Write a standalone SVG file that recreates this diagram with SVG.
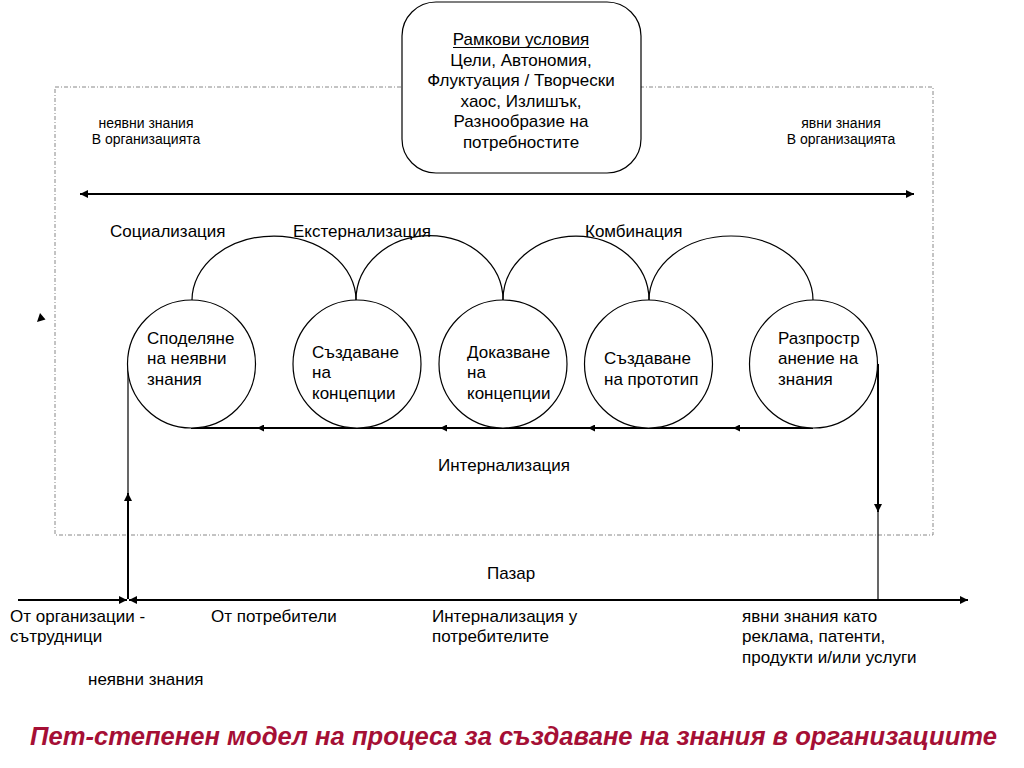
<svg xmlns="http://www.w3.org/2000/svg" width="1024" height="768" viewBox="0 0 1024 768">
<style>
text{font-family:"Liberation Sans",Arial,sans-serif;fill:#000}
.t15{font-size:17px}
.t13{font-size:14px}
.mid{text-anchor:middle}
.ln{fill:none;stroke:#000;stroke-width:1.2}
.thk{fill:none;stroke:#000;stroke-width:2}
.circ{fill:#fff;stroke:#000;stroke-width:1.2}
.title{font-size:25px;font-weight:bold;font-style:italic;fill:#a50f35}
</style>
<defs>
<marker id="ah" viewBox="0 0 10 10" refX="10" refY="5" markerWidth="9" markerHeight="8" markerUnits="userSpaceOnUse" orient="auto-start-reverse"><path d="M0,0 L10,5 L0,10 z" fill="#000"/></marker>
<marker id="ahs" viewBox="0 0 10 10" refX="10" refY="5" markerWidth="7" markerHeight="7" markerUnits="userSpaceOnUse" orient="auto-start-reverse"><path d="M0,0 L10,5 L0,10 z" fill="#000"/></marker>
</defs>
<rect width="1024" height="768" fill="#fff"/>
<rect id="organization" x="55" y="87" width="878" height="448" fill="none" stroke="#888" stroke-width="1" stroke-dasharray="4,2,1,2"/>
<g id="frame-conditions">
<rect x="402" y="2" width="239" height="171" rx="34" ry="34" fill="#fff" stroke="#000" stroke-width="1.2"/>
<text class="t15 mid" x="521" y="45">Рамкови условия</text>
<line x1="453" y1="47.5" x2="589" y2="47.5" stroke="#000" stroke-width="1"/>
<text class="t15 mid" x="521" y="66">Цели, Автономия,</text>
<text class="t15 mid" x="521" y="86">Флуктуация / Творчески</text>
<text class="t15 mid" x="521" y="107">хаос, Излишък,</text>
<text class="t15 mid" x="521" y="127">Разнообразие на</text>
<text class="t15 mid" x="521" y="148">потребностите</text>
</g>
<g id="labels-top">
<text class="t13 mid" x="146" y="128">неявни знания</text>
<text class="t13 mid" x="146" y="144">В организацията</text>
<text class="t13 mid" x="841" y="128">явни знания</text>
<text class="t13 mid" x="841" y="144">В организацията</text>
<text class="t15" x="110" y="237">Социализация</text>
<text class="t15" x="293" y="237">Екстернализация</text>
<text class="t15" x="585" y="237">Комбинация</text>
</g>
<g id="connectors">
<line class="thk" x1="80" y1="194" x2="914" y2="194" marker-start="url(#ah)" marker-end="url(#ah)"/>
<path class="ln" d="M192,300 A82,64 0 0 1 356,300"/>
<path class="ln" d="M356,300 A73,64 0 0 1 503,300"/>
<path class="ln" d="M503,300 A73,64 0 0 1 649,300"/>
<path class="ln" d="M649,300 A82,64 0 0 1 813,300"/>
<line class="thk" x1="813" y1="428" x2="733" y2="428" marker-end="url(#ahs)"/>
<line class="thk" x1="735" y1="428" x2="588" y2="428" marker-end="url(#ahs)"/>
<line class="thk" x1="590" y1="428" x2="440" y2="428" marker-end="url(#ahs)"/>
<line class="thk" x1="442" y1="428" x2="257" y2="428" marker-end="url(#ahs)"/>
<line class="thk" x1="259" y1="428" x2="191" y2="428"/>
<line class="ln" x1="128" y1="364" x2="128" y2="495"/>
<line class="thk" x1="128" y1="599" x2="128" y2="493" marker-end="url(#ah)"/>
<line class="thk" x1="878" y1="364" x2="878" y2="512" marker-end="url(#ah)"/>
<line class="ln" x1="878" y1="510" x2="878" y2="600"/>
<line class="thk" x1="18" y1="600" x2="127" y2="600" marker-end="url(#ah)"/>
<line class="thk" x1="129" y1="600" x2="968" y2="600" marker-start="url(#ah)" marker-end="url(#ah)"/>
<polygon points="37,322 40,313 45.5,319.5" fill="#000"/>
</g>
<g id="node-1">
<circle class="circ" cx="191.5" cy="364" r="64"/>
<text class="t15" x="147" y="344">Споделяне</text>
<text class="t15" x="147" y="364">на неявни</text>
<text class="t15" x="147" y="385">знания</text>
</g>
<g id="node-2">
<circle class="circ" cx="357" cy="364" r="64"/>
<text class="t15" x="312" y="358">Създаване</text>
<text class="t15" x="312" y="378">на</text>
<text class="t15" x="312" y="399">концепции</text>
</g>
<g id="node-3">
<circle class="circ" cx="503" cy="364" r="64"/>
<text class="t15" x="467" y="358">Доказване</text>
<text class="t15" x="467" y="378">на</text>
<text class="t15" x="467" y="399">концепции</text>
</g>
<g id="node-4">
<circle class="circ" cx="648.5" cy="364" r="64"/>
<text class="t15" x="604" y="364">Създаване</text>
<text class="t15" x="604" y="385">на прототип</text>
</g>
<g id="node-5">
<circle class="circ" cx="813.5" cy="364" r="64"/>
<text class="t15" x="778" y="344">Разпростр</text>
<text class="t15" x="778" y="364">анение на</text>
<text class="t15" x="778" y="385">знания</text>
</g>
<g id="labels-bottom">
<text class="t15" x="438" y="471">Интернализация</text>
<text class="t15" x="487" y="579">Пазар</text>
<text class="t15" x="10" y="622">От организации -</text>
<text class="t15" x="10" y="642">сътрудници</text>
<text class="t15" x="211" y="622">От потребители</text>
<text class="t15" x="432" y="622">Интернализация у</text>
<text class="t15" x="432" y="642">потребителите</text>
<text class="t15" x="742" y="622">явни знания като</text>
<text class="t15" x="742" y="642">реклама, патенти,</text>
<text class="t15" x="742" y="663">продукти и/или услуги</text>
<text class="t15" x="88" y="685">неявни знания</text>
</g>
<text class="title" x="30" y="745" textLength="967" lengthAdjust="spacingAndGlyphs">Пет-степенен модел на процеса за създаване на знания в организациите</text>
</svg>
